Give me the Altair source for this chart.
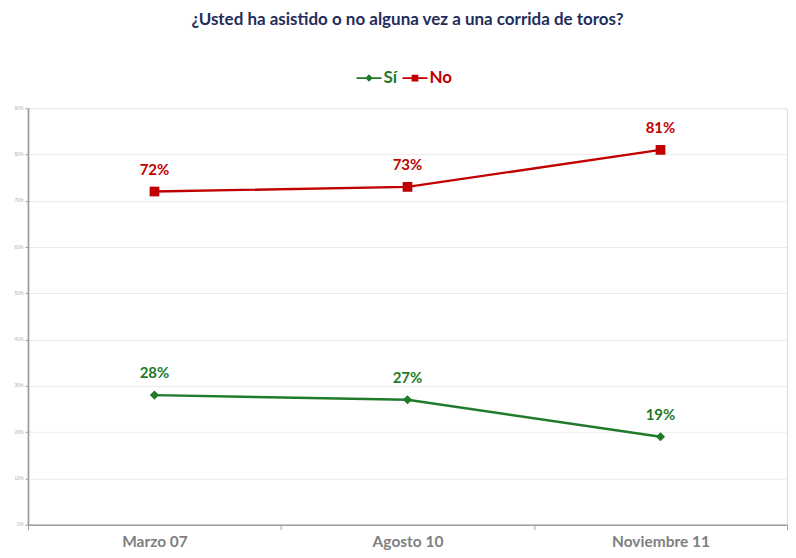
import altair as alt
import pandas as pd

periods = ["Marzo 07", "Agosto 10", "Noviembre 11"]
series = ["Sí", "No"]
si_values = [0.28, 0.27, 0.19]
no_values = [0.72, 0.73, 0.81]
y_ticks = [0, 0.1, 0.2, 0.3, 0.4, 0.5, 0.6, 0.7, 0.8, 0.9]
colors = ["#1f7a2a", "#c00000"]

rows = []
for p, v in zip(periods, si_values):
    rows.append({"periodo": p, "serie": "Sí", "valor": v})
for p, v in zip(periods, no_values):
    rows.append({"periodo": p, "serie": "No", "valor": v})
df = pd.DataFrame(rows)

path_si = "M-1,-0.07H1V0.07H-1Z M0,-0.3L0.3,0L0,0.3L-0.3,0Z"
path_no = "M-1,-0.07H1V0.07H-1Z M-0.27,-0.27H0.27V0.27H-0.27Z"

x_enc = alt.X(
    "periodo:N",
    sort=periods,
    bandPosition=0.5,
    scale=alt.Scale(type="band", domain=periods, paddingInner=0, paddingOuter=0),
    axis=alt.Axis(
        title=None, labelAngle=0, tickBand="extent", grid=False,
        labelFont="Lato", labelFontSize=15.5, labelFontWeight="bold",
        labelColor="#7f7f7f", labelPadding=5, tickSize=5, tickColor="#a0a0a0",
        domainColor="#a0a0a0", domainWidth=1.5,
    ),
)
y_enc = alt.Y(
    "valor:Q",
    scale=alt.Scale(domain=[0, 0.9], nice=False),
    axis=alt.Axis(
        title=None, values=y_ticks, format=".0%", labelFontSize=4.5,
        labelColor="#b0b0b0", labelPadding=2, tickSize=3, tickColor="#a0a0a0",
        domainColor="#a0a0a0", domainWidth=1.8, gridColor="#ececec", gridWidth=1,
    ),
)
color_scale = alt.Scale(domain=series, range=colors)

legend_def = alt.Legend(
    title=None, orient="none", direction="horizontal",
    legendX=329, legendY=-43, symbolSize=625, symbolStrokeWidth=0,
    labelFont="Lato", labelFontSize=17, labelFontWeight="bold",
    columnPadding=5, labelOffset=2,
    labelColor={"expr": "datum.value == 'Sí' ? '#1f7a2a' : '#c00000'"},
)
color_enc = alt.Color("serie:N", scale=color_scale, legend=legend_def)

base = alt.Chart(df)

lines = base.mark_line(strokeWidth=2.4).encode(x=x_enc, y=y_enc, color=color_enc)

pts_si = base.transform_filter("datum.serie == 'Sí'").mark_point(
    filled=True, opacity=1, shape="diamond", size=85
).encode(x=x_enc, y=y_enc, color=color_enc)

pts_no = base.transform_filter("datum.serie == 'No'").mark_point(
    filled=True, opacity=1, shape="square", size=95
).encode(x=x_enc, y=y_enc, color=color_enc)

labels = base.mark_text(
    dy=-22, font="Lato", fontSize=15, fontWeight="bold"
).encode(
    x=x_enc, y=y_enc,
    text=alt.Text("valor:Q", format=".0%"),
    color=color_enc,
)

legend_layer = base.transform_filter("datum.valor < 0").mark_point(
    filled=True, opacity=1
).encode(
    x=x_enc, y=y_enc,
    color=color_enc,
    shape=alt.Shape(
        "serie:N",
        scale=alt.Scale(domain=series, range=[path_si, path_no]),
        legend=legend_def,
    ),
)

chart = alt.layer(lines, pts_si, pts_no, labels, legend_layer).properties(
    width=760,
    height=417,
    padding={"left": 5, "top": 3, "right": 0, "bottom": 0},
    title=alt.Title(
        "¿Usted ha asistido o no alguna vez a una corrida de toros?",
        font="Lato", fontSize=17, fontWeight="bold", color="#1f2d5c",
        anchor="middle", offset=36,
    ),
).configure_view(stroke=None).configure(background="white")

chart.save("out.html", embed_options={"renderer": "svg", "actions": False})
